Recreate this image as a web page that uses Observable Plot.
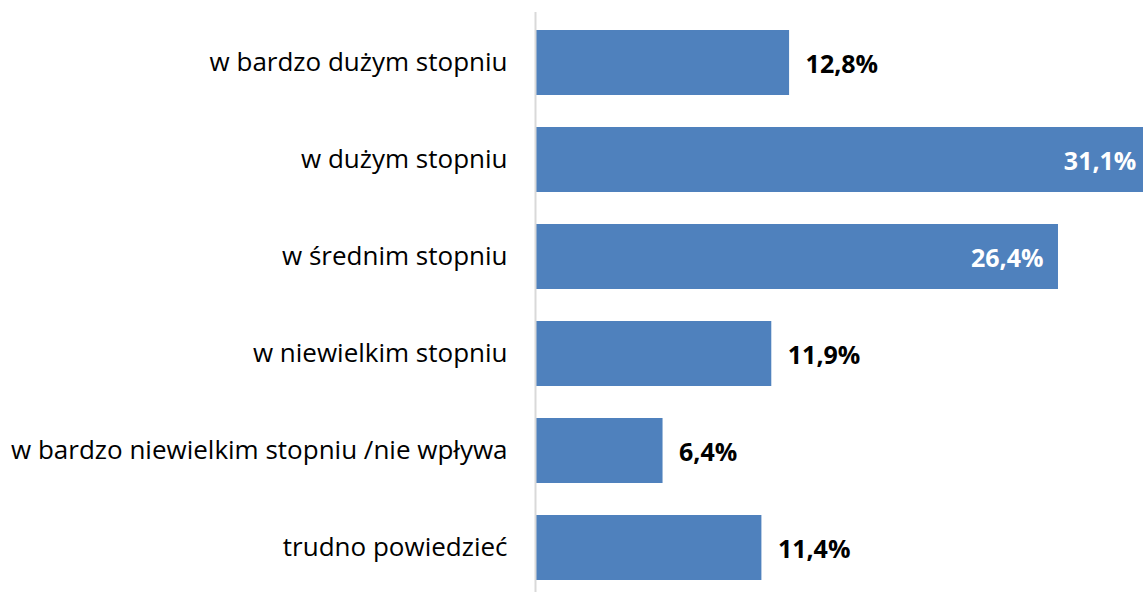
<!DOCTYPE html>
<html>
<head>
<meta charset="utf-8">
<script src="https://cdn.jsdelivr.net/npm/d3@7"></script>
<script src="https://cdn.jsdelivr.net/npm/@observablehq/plot@0.6"></script>
<style>
  html, body { margin: 0; padding: 0; background: #fff; overflow: hidden; }
  #chart { width: 1143px; height: 592px; }
</style>
</head>
<body>
<div id="chart"></div>
<script>
const categories = [
  "w bardzo dużym stopniu",
  "w dużym stopniu",
  "w średnim stopniu",
  "w niewielkim stopniu",
  "w bardzo niewielkim stopniu /nie wpływa",
  "trudno powiedzieć"
];
const values = [12.8, 31.1, 26.4, 11.9, 6.4, 11.4];
const insideLabel = [false, true, true, false, false, false];

const rows = categories.map((c, i) => ({category: c, value: values[i], inside: insideLabel[i]}));
const fmt = v => v.toFixed(1).replace(".", ",") + "%";

const fontFamily = "'Open Sans', sans-serif";

const chart = Plot.plot({
  width: 1143,
  height: 592,
  marginLeft: 536,
  marginRight: 0,
  marginTop: 12,
  marginBottom: 0,
  style: {fontFamily, background: "#fff"},
  x: {domain: [0, 30.7], axis: null},
  y: {domain: categories, range: [18.2, 591.8], paddingInner: 0.335, paddingOuter: 0.1, label: null},
  marks: [
    Plot.barX(rows, {x: "value", y: "category", fill: "#4f81bd", clip: "frame"}),
    Plot.ruleX([0], {stroke: "#d9d9d9", strokeWidth: 2, dx: -1}),
    Plot.axisY({tickSize: 0, tickPadding: 29, fontSize: 26, fill: "#000", label: null}),
    Plot.text(rows.filter(d => !d.inside), {
      x: "value", y: "category", text: d => fmt(d.value),
      textAnchor: "start", dx: 16, dy: 2, fontSize: 25, fontWeight: "bold", fill: "#000"
    }),
    Plot.text(rows.filter(d => d.inside), {
      x: d => Math.min(d.value, 30.7 + 0.7), y: "category", text: d => fmt(d.value),
      textAnchor: "end", dx: -15, dy: 2, fontSize: 25, fontWeight: "bold", fill: "#fff"
    })
  ]
});
document.getElementById("chart").appendChild(chart);
</script>
</body>
</html>
